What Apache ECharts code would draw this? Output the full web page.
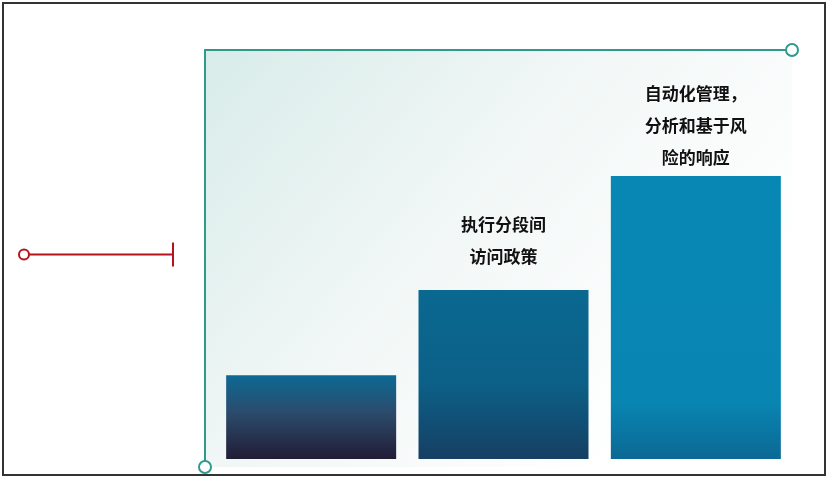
<!DOCTYPE html>
<html lang="zh">
<head>
    <meta charset="UTF-8">
    <title>分段访问成熟度</title>
    <script src="https://cdn.jsdelivr.net/npm/echarts@6/dist/echarts.min.js"></script>
    <style>
        html, body { margin: 0; padding: 0; background: #fff; }
        #wrap { position: relative; width: 831px; height: 480px; }
        #chart { position: absolute; left: 0; top: 0; width: 831px; height: 480px; }
        #frame {
            position: absolute; left: 2px; top: 2px; width: 824px; height: 474px;
            box-sizing: border-box; border: 2px solid #333; pointer-events: none;
        }
    </style>
</head>
<body>
<div id="wrap">
    <div id="chart"></div>
    <div id="frame"></div>
</div>
<script>
    // 数据
    const stages = ['初始', '执行分段间访问政策', '自动化管理，分析和基于风险的响应'];
    const stageLabels = ['', '执行分段间\n访问政策', '自动化管理，\n分析和基于风\n险的响应'];
    const stageValues = [20.5, 41.3, 69.2];
    const currentLevel = 50;

    // 每根柱子的渐变色（上 -> 中 -> 下），中间色的位置
    const barColors = [
        ['#0d6994', '#2b4b6c', '#221c35'],
        ['#0a6891', '#0c6087', '#163f63'],
        ['#0887b5', '#0985b2', '#0c6894']
    ];
    const barMidStops = [0.45, 0.55, 0.8];
    const labelGaps = [0, 18, 2];

    const teal = '#2f9a8c';

    const chart = echarts.init(document.getElementById('chart'), null, { renderer: 'canvas' });

    const barData = stageValues.map((v, i) => ({
        value: v,
        itemStyle: {
            color: new echarts.graphic.LinearGradient(0, 0, 0, 1, [
                { offset: 0, color: barColors[i][0] },
                { offset: barMidStops[i], color: barColors[i][1] },
                { offset: 1, color: barColors[i][2] }
            ])
        },
        label: {
            show: stageLabels[i] !== '',
            formatter: stageLabels[i],
            distance: labelGaps[i]
        }
    }));

    chart.setOption({
        animation: false,
        grid: [
            // 装饰用坐标框
            {
                left: 205, right: 39, top: 50, bottom: 13,
                show: true, borderWidth: 0,
                backgroundColor: new echarts.graphic.LinearGradient(0, 0, 0.75, 0.9, [
                    { offset: 0, color: '#d8ece9' },
                    { offset: 0.5, color: '#f1f7f6' },
                    { offset: 1, color: '#ffffff' }
                ])
            },
            // 柱状图
            { left: 215, right: 39, top: 50, bottom: 21 },
            // 左侧当前水平线
            { left: 24, right: 658, top: 50, bottom: 21 }
        ],
        xAxis: [
            {
                gridIndex: 0, type: 'value', position: 'top', min: 0, max: 1,
                axisLine: { show: true, onZero: false, lineStyle: { color: teal, width: 2 },
                    symbol: ['none', 'emptyCircle'], symbolSize: [12, 12] },
                axisTick: { show: false }, axisLabel: { show: false }, splitLine: { show: false }
            },
            {
                gridIndex: 1, type: 'category', data: stages,
                axisLine: { show: false }, axisTick: { show: false }, axisLabel: { show: false }
            },
            {
                gridIndex: 2, type: 'value', min: 0, max: 1, show: false
            }
        ],
        yAxis: [
            {
                gridIndex: 0, type: 'value', min: 0, max: 1,
                axisLine: { show: true, onZero: false, lineStyle: { color: teal, width: 2 },
                    symbol: ['emptyCircle', 'none'], symbolSize: [12, 12] },
                axisTick: { show: false }, axisLabel: { show: false }, splitLine: { show: false }
            },
            { gridIndex: 1, type: 'value', min: 0, max: 100, show: false },
            { gridIndex: 2, type: 'value', min: 0, max: 100, show: false }
        ],
        series: [
            {
                type: 'bar',
                xAxisIndex: 1, yAxisIndex: 1,
                barWidth: 170,
                data: barData,
                label: {
                    position: 'top',
                    color: '#111',
                    fontSize: 17,
                    fontWeight: 'bold',
                    lineHeight: 32,
                    fontFamily: 'Noto Sans CJK SC',
                    align: 'center'
                }
            },
            {
                type: 'line',
                xAxisIndex: 2, yAxisIndex: 2,
                lineStyle: { color: '#b3141c', width: 2 },
                itemStyle: { color: '#b3141c', borderWidth: 2 },
                data: [
                    { value: [0, currentLevel], symbol: 'emptyCircle', symbolSize: 10 },
                    { value: [1, currentLevel], symbol: 'rect', symbolSize: [2, 24] }
                ]
            }
        ]
    });
</script>
</body>
</html>
